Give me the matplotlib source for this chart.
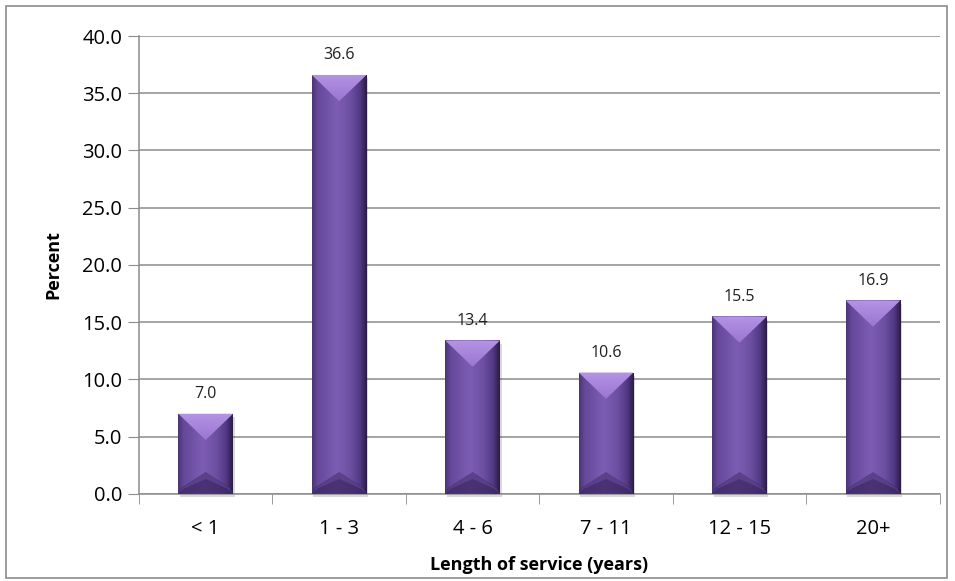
import numpy as np
import matplotlib.pyplot as plt
from matplotlib.colors import LinearSegmentedColormap
from matplotlib.patches import Polygon, Rectangle

# data
categories = ["< 1", "1 - 3", "4 - 6", "7 - 11", "12 - 15", "20+"]
percent = [7.0, 36.6, 13.4, 10.6, 15.5, 16.9]

plt.rcParams['font.family'] = ['Open Sans', 'DejaVu Sans']

fig = plt.figure(figsize=(9.55, 5.81), dpi=100)
ax = fig.add_axes([0.1455, 0.150, 0.8385, 0.788])

# outer chart border
fig.patches.append(Rectangle((0.006, 0.006), 0.986, 0.983, transform=fig.transFigure,
                             fill=False, edgecolor='#8c8c8c', linewidth=1.2))

bar_w = 0.41
x = np.arange(len(categories))
bars = ax.bar(x, percent, width=bar_w, color='#5e3f8c', zorder=2)

# horizontal shading across each bar
shade = LinearSegmentedColormap.from_list('shade', [
    (0.0, '#4a3472'), (0.1, '#64489a'), (0.45, '#7c5db3'),
    (0.7, '#6d50a2'), (0.88, '#523884'), (1.0, '#2a1c40')])
grad = np.linspace(0, 1, 256).reshape(1, -1)
cap = LinearSegmentedColormap.from_list('cap', ['#b494e4', '#9a76d2'])
vgrad = np.linspace(0, 1, 64).reshape(-1, 1)

d = 2.3  # cap depth in data units
for b, v in zip(bars, percent):
    x0 = b.get_x()
    x1 = x0 + b.get_width()
    xc = (x0 + x1) / 2
    # drop shadow
    ax.add_patch(Rectangle((x0 + 0.012, -0.3), x1 - x0, v, facecolor='#000000',
                           alpha=0.15, edgecolor='none', zorder=1.5, clip_on=False))
    im = ax.imshow(grad, cmap=shade, extent=(x0, x1, 0, v), aspect='auto', zorder=3)
    im.set_clip_path(b)
    # top bevel
    tri = Polygon([(x0, v), (x1, v), (xc, v - d)], closed=True,
                  facecolor='none', edgecolor='none', zorder=4)
    ax.add_patch(tri)
    ci = ax.imshow(vgrad, cmap=cap, extent=(x0, x1, v - d, v), aspect='auto', zorder=4)
    ci.set_clip_path(tri)
    # bottom bevel
    ax.add_patch(Polygon([(x0, 0), (x1, 0), (x1 - 0.02, 0.5), (xc, 1.9), (x0 + 0.02, 0.5)],
                         closed=True, facecolor='#3e2966', edgecolor='none', alpha=0.8, zorder=4))
    ax.add_patch(Polygon([(x0, 0), (x0 + 0.03, 0.5), (xc, 1.9), (x1 - 0.03, 0.5), (x1, 0),
                          (x1 - 0.04, 0.45), (xc, 1.3), (x0 + 0.04, 0.45)],
                         closed=True, facecolor='#6c50a0', edgecolor='none', alpha=0.5, zorder=4))
    ax.text(xc, v + 1.0, f"{v:.1f}", ha='center', va='bottom', fontsize=11.5, color='#202020')

ax.set_xlim(-0.5, len(categories) - 0.5)
ax.set_ylim(0, 40)
yt = np.arange(0, 40.1, 5)
ax.set_yticks(yt)
ax.set_yticklabels([f"{t:.1f}" for t in yt], fontsize=14.5)
ax.set_xticks(x)
ax.set_xticklabels(categories, fontsize=14.5)
ax.tick_params(axis='x', length=0, pad=18)
ax.set_xticks(np.arange(-0.5, len(categories)), minor=True)
ax.tick_params(axis='x', which='minor', length=7, color='#8c8c8c')
ax.tick_params(axis='y', length=8, color='#8c8c8c', pad=4)
ax.grid(axis='y', color='#8c8c8c', linewidth=1.1, zorder=0)
ax.set_axisbelow(True)
for s in ['top', 'right']:
    ax.spines[s].set_visible(False)
for s in ['left', 'bottom']:
    ax.spines[s].set_color('#8c8c8c')
    ax.spines[s].set_linewidth(1.1)

ax.set_ylabel("Percent", fontsize=13, fontweight='bold', labelpad=14)
ax.set_xlabel("Length of service (years)", fontsize=13, fontweight='bold', labelpad=12)

fig.savefig("out.png", dpi=100)
